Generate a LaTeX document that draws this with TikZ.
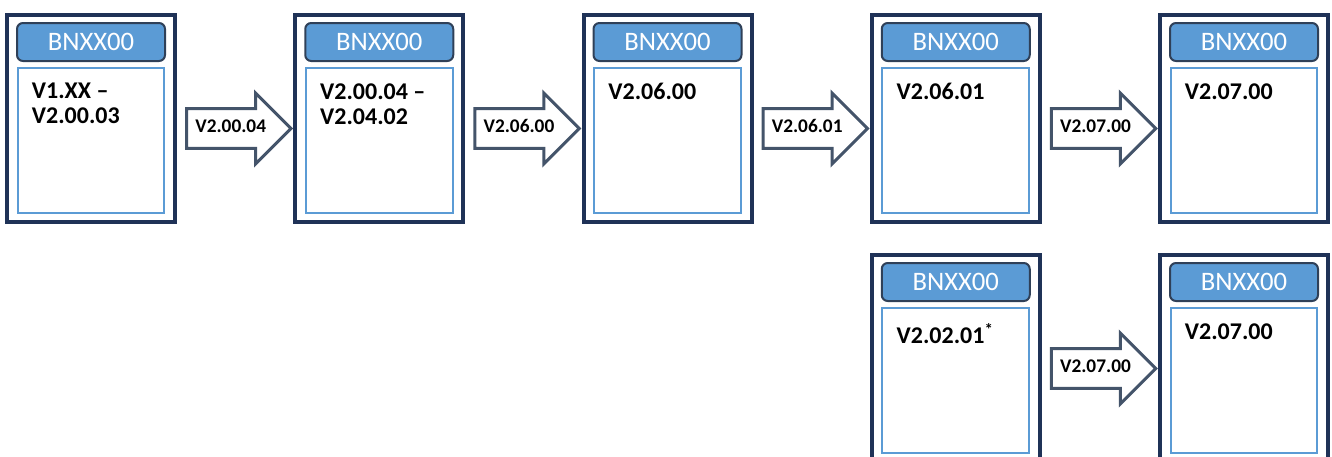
\documentclass[tikz,border=0pt]{standalone}
\usepackage{fontspec}
\setmainfont{Carlito}
\usetikzlibrary{positioning,shapes.arrows}
\begin{document}
\begin{tikzpicture}[x=0.75pt,y=-0.75pt]

	%ESTILOS
	\tikzstyle{marco} = [draw={rgb,255:red,31; green,50; blue,87}, line width=3pt, minimum width=126pt, minimum height=155.25pt, inner sep=0pt]
	\tikzstyle{cabecera} = [draw={rgb,255:red,47; green,64; blue,88}, fill={rgb,255:red,91; green,155; blue,213}, rounded corners=4.5pt, line width=1.5pt, minimum width=111pt, minimum height=28.5pt, inner sep=0pt, text=white, font=\fontsize{20}{24}\selectfont]
	\tikzstyle{contenido} = [draw={rgb,255:red,91; green,155; blue,213}, line width=1.5pt, minimum width=110pt, minimum height=108.75pt, inner sep=0pt]
	\tikzstyle{version} = [align=left, inner sep=0pt, font=\bfseries\fontsize{18}{18.75}\selectfont]
	\tikzstyle{flecha} = [single arrow, draw={rgb,255:red,68; green,84; blue,106}, fill=white, line width=2.25pt, single arrow head extend=11.75pt, text width=50.25pt, align=left, inner xsep=5.5pt, inner ysep=8pt, text height=9pt, text depth=2.5pt, font=\bfseries\fontsize{14.5}{16}\selectfont]

	\useasboundingbox (0,0) rectangle (1332,457);
	\clip (0,0) rectangle (1332,457);

	%CAJAS FILA SUPERIOR
	\draw(91,118.5) node[marco](b1){};
	\node[cabecera, below=6.75pt of b1.north](h1){BNXX00};
	\node[contenido, below=3.75pt of h1](c1){};
	\node[version, below right=12pt and 11.25pt of c1.north west](t1){V1.XX –\\V2.00.03};

	\draw(379.25,118.5) node[marco](b2){};
	\node[cabecera, below=6.75pt of b2.north](h2){BNXX00};
	\node[contenido, below=3.75pt of h2](c2){};
	\node[version, below right=12pt and 11.25pt of c2.north west](t2){V2.00.04 –\\V2.04.02};

	\draw(667.5,118.5) node[marco](b3){};
	\node[cabecera, below=6.75pt of b3.north](h3){BNXX00};
	\node[contenido, below=3.75pt of h3](c3){};
	\node[version, below right=12pt and 11.25pt of c3.north west](t3){V2.06.00};

	\draw(955.75,118.5) node[marco](b4){};
	\node[cabecera, below=6.75pt of b4.north](h4){BNXX00};
	\node[contenido, below=3.75pt of h4](c4){};
	\node[version, below right=12pt and 11.25pt of c4.north west](t4){V2.06.01};

	\draw(1244,118.5) node[marco](b5){};
	\node[cabecera, below=6.75pt of b5.north](h5){BNXX00};
	\node[contenido, below=3.75pt of h5](c5){};
	\node[version, below right=12pt and 11.25pt of c5.north west](t5){V2.07.00};

	%CAJAS FILA INFERIOR
	\draw(955.75,358.5) node[marco](b6){};
	\node[cabecera, below=6.75pt of b6.north](h6){BNXX00};
	\node[contenido, below=3.75pt of h6](c6){};
	\node[version, below right=12pt and 11.25pt of c6.north west](t6){V2.02.01\textsuperscript{*}};

	\draw(1244,358.5) node[marco](b7){};
	\node[cabecera, below=6.75pt of b7.north](h7){BNXX00};
	\node[contenido, below=3.75pt of h7](c7){};
	\node[version, below right=12pt and 11.25pt of c7.north west](t7){V2.07.00};

	%FLECHAS
	\node[flecha, right=6pt of b1, yshift=-7.5pt](f1){V2.00.04};
	\node[flecha, right=6pt of b2, yshift=-7.5pt](f2){V2.06.00};
	\node[flecha, right=6pt of b3, yshift=-7.5pt](f3){V2.06.01};
	\node[flecha, right=6pt of b4, yshift=-7.5pt](f4){V2.07.00};
	\node[flecha, right=6pt of b6, yshift=-7.5pt](f5){V2.07.00};
\end{tikzpicture}
\end{document}
